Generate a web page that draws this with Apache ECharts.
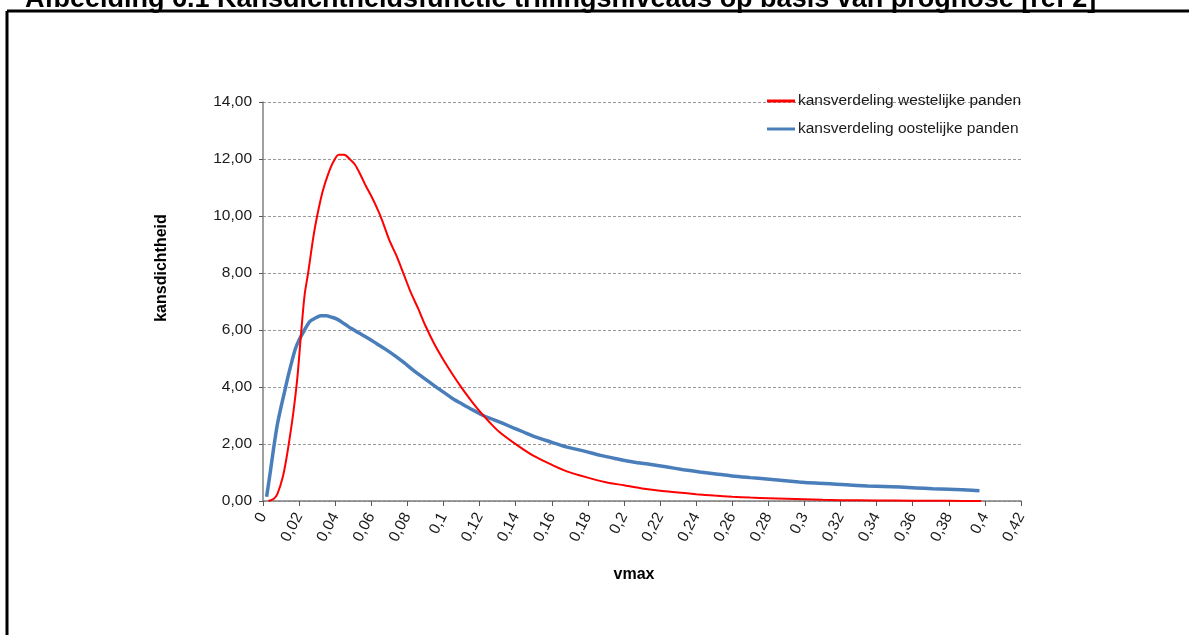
<!DOCTYPE html>
<html>
<head>
<meta charset="utf-8">
<script src="https://cdn.jsdelivr.net/npm/echarts@6/dist/echarts.min.js"></script>
<style>
html,body{margin:0;padding:0;background:#fff;}
#chart{width:1189px;height:635px;}
</style>
</head>
<body>
<div id="chart"></div>
<script>
const titleText = 'Afbeelding 6.1 Kansdichtheidsfunctie trillingsniveaus op basis van prognose [ref 2]';
const xAxisTitle = 'vmax';
const yAxisTitle = 'kansdichtheid';
const seriesNames = ['kansverdeling westelijke panden', 'kansverdeling oostelijke panden'];

const westX = [0.003,0.006,0.008,0.011,0.013,0.015,0.017,0.019,0.021,0.023,0.025,0.028,0.030,0.033,0.036,0.039,0.042,0.045,0.048,0.051,0.054,0.057,0.060,0.063,0.066,0.070,0.074,0.078,0.082,0.086,0.090,0.095,0.100,0.105,0.110,0.115,0.120,0.125,0.131,0.141,0.150,0.159,0.168,0.180,0.190,0.200,0.210,0.220,0.230,0.240,0.250,0.260,0.270,0.280,0.290,0.300,0.310,0.320,0.340,0.360,0.380,0.398];
const westY = [0,0.08,0.25,0.85,1.5,2.3,3.2,4.3,5.8,7.2,8.0,9.3,10.0,10.85,11.45,11.9,12.15,12.15,12.0,11.8,11.45,11.05,10.7,10.3,9.85,9.15,8.6,7.95,7.3,6.75,6.15,5.5,4.95,4.45,3.98,3.55,3.15,2.8,2.42,1.95,1.58,1.3,1.05,0.82,0.66,0.55,0.44,0.36,0.3,0.24,0.19,0.15,0.12,0.1,0.08,0.06,0.04,0.03,0.02,0.01,0.005,0];

const oostX = [0.002,0.004,0.006,0.008,0.010,0.012,0.014,0.016,0.018,0.020,0.023,0.026,0.029,0.032,0.035,0.038,0.041,0.045,0.049,0.053,0.058,0.063,0.068,0.073,0.078,0.083,0.089,0.095,0.100,0.105,0.111,0.117,0.122,0.128,0.133,0.139,0.144,0.150,0.159,0.168,0.178,0.187,0.196,0.205,0.215,0.224,0.233,0.242,0.251,0.260,0.270,0.279,0.288,0.297,0.306,0.316,0.325,0.335,0.344,0.353,0.362,0.371,0.380,0.390,0.397];
const oostY = [0.15,1.0,1.9,2.7,3.3,3.85,4.4,4.9,5.35,5.65,6.0,6.3,6.42,6.5,6.5,6.45,6.38,6.22,6.05,5.9,5.72,5.52,5.32,5.1,4.86,4.6,4.32,4.04,3.82,3.6,3.38,3.17,3.0,2.85,2.72,2.56,2.43,2.27,2.08,1.9,1.75,1.6,1.48,1.37,1.28,1.19,1.1,1.02,0.95,0.88,0.82,0.77,0.72,0.67,0.63,0.6,0.56,0.53,0.51,0.49,0.46,0.43,0.41,0.39,0.36];

const xMin = 0, xMax = 0.42, xStep = 0.02;
const yMin = 0, yMax = 14, yStep = 2;

const westData = westX.map((x, i) => [x, westY[i]]);
const oostData = oostX.map((x, i) => [x, oostY[i]]);

const chart = echarts.init(document.getElementById('chart'), null, {renderer: 'canvas'});
const font = 'Arial, "Liberation Sans", sans-serif';

chart.setOption({
  animation: false,
  backgroundColor: '#ffffff',
  grid: {left: 263, right: 168, top: 102, bottom: 134, containLabel: false},
  legend: {
    orient: 'vertical',
    left: 767,
    top: 93,
    padding: 0,
    itemWidth: 28,
    itemHeight: 3,
    itemGap: 12,
    icon: 'rect',
    textStyle: {fontFamily: font, fontSize: 15.5, color: '#1a1a1a', padding: [0, 0, 0, -2]},
    data: seriesNames
  },
  xAxis: {
    type: 'value',
    min: xMin, max: xMax, interval: xStep,
    axisLine: {show: true, lineStyle: {color: '#7f7f7f', width: 1.5}},
    axisTick: {show: true, length: 5, lineStyle: {color: '#595959'}},
    splitLine: {show: false},
    axisLabel: {
      rotate: 62, margin: 13, fontFamily: font, fontSize: 15.5, color: '#1a1a1a',
      formatter: v => String(Math.round(v * 100) / 100).replace('.', ',')
    }
  },
  yAxis: {
    type: 'value',
    min: yMin, max: yMax, interval: yStep,
    axisLine: {show: true, lineStyle: {color: '#7f7f7f', width: 1.5}},
    axisTick: {show: true, length: 4, lineStyle: {color: '#595959'}},
    splitLine: {show: true, lineStyle: {color: '#9a9a9a', type: [3, 2], width: 1}},
    axisLabel: {
      margin: 11, fontFamily: font, fontSize: 15.5, color: '#1a1a1a',
      formatter: v => v.toFixed(2).replace('.', ',')
    }
  },
  series: [
    {
      name: seriesNames[0], type: 'line', data: westData, showSymbol: false, symbol: 'none',
      smooth: 0.3, lineStyle: {color: '#ff0000', width: 2}, itemStyle: {color: '#ff0000'}, z: 3
    },
    {
      name: seriesNames[1], type: 'line', data: oostData, showSymbol: false, symbol: 'none',
      smooth: 0.3, lineStyle: {color: '#4a7ebb', width: 3.5}, itemStyle: {color: '#4a7ebb'}, z: 2
    }
  ],
  graphic: [
    {type: 'text', left: 25, top: -14, style: {text: titleText, font: 'bold 27px Arial, "Liberation Sans", sans-serif', fill: '#000'}},
    {type: 'line', shape: {x1: 7, y1: 11, x2: 1189, y2: 11}, style: {stroke: '#000', lineWidth: 3}},
    {type: 'line', shape: {x1: 7, y1: 11, x2: 7, y2: 635}, style: {stroke: '#000', lineWidth: 3}},
    {type: 'text', x: 162, y: 268, rotation: Math.PI / 2,
      style: {text: yAxisTitle, font: 'bold 16px Arial, "Liberation Sans", sans-serif', fill: '#000', align: 'center', verticalAlign: 'middle'}},
    {type: 'text', x: 634, y: 575,
      style: {text: xAxisTitle, font: 'bold 16px Arial, "Liberation Sans", sans-serif', fill: '#000', align: 'center', verticalAlign: 'middle'}}
  ]
});
</script>
</body>
</html>
